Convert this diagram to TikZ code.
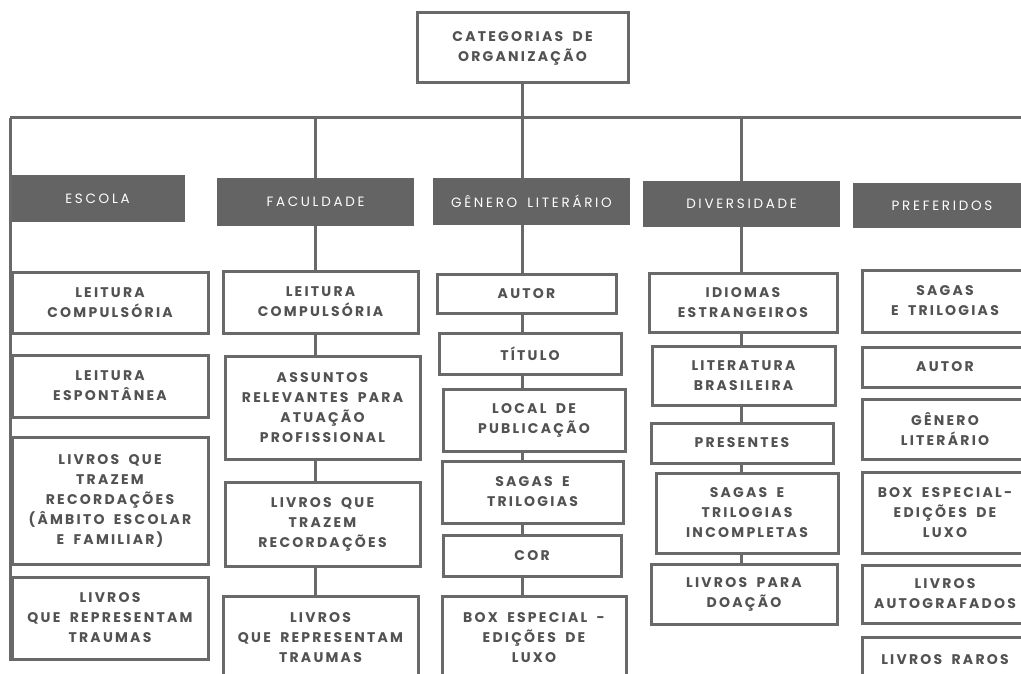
\documentclass[tikz,border=0pt]{standalone}
\usepackage{fontspec}
\usepackage{xcolor}
\usepackage{tikz}
\newfontfamily\boxfont[LetterSpace=16,WordSpace=1.8]{Poppins}
\newfontfamily\hdrfont[LetterSpace=20,WordSpace=1.6]{Poppins}
\definecolor{linegray}{RGB}{105,105,105}
\definecolor{hdrgray}{RGB}{100,100,100}
\definecolor{txtgray}{RGB}{82,82,82}

\begin{document}
\begin{tikzpicture}[x=1pt,y=-1pt,thick]
  \tikzstyle{item}=[draw=linegray,line width=3pt,fill=white,text=txtgray,align=center,inner sep=0pt,font=\boxfont\bfseries\fontsize{14}{20}\selectfont]
  \tikzstyle{hdr}=[fill=hdrgray,text=white,align=center,inner sep=0pt,font=\hdrfont\fontsize{13.5}{15}\selectfont]
  \tikzstyle{conn}=[draw=linegray,line width=3pt]
  \useasboundingbox (0,0) rectangle (1021,674);
  \clip (0,0) rectangle (1021,674);

  % root
  \node[item,minimum width=211,minimum height=70] (root) at (522.5,48) {CATEGORIAS DE\\ORGANIZAÇÃO};
  \coordinate (barL) at (10,118);
  \coordinate (barR) at (1030,118);

  % headers
  \node[hdr,minimum width=175,minimum height=47] (esc) at (97.5,198.5) {ESCOLA};
  \node[hdr,minimum width=197,minimum height=48] (fac) at (315.5,202) {FACULDADE};
  \node[hdr,minimum width=197,minimum height=47] (gen) at (531.5,201.5) {GÊNERO LITERÁRIO};
  \node[hdr,minimum width=197,minimum height=46] (div) at (741.5,204) {DIVERSIDADE};
  \node[hdr,minimum width=178,minimum height=45] (pre) at (942,205.5) {PREFERIDOS};

  % escola
  \node[item,minimum width=196,minimum height=61] (e1) at (110,302.5) {LEITURA\\COMPULSÓRIA};
  \node[item,minimum width=196,minimum height=62] (e2) at (110,386) {LEITURA\\ESPONTÂNEA};
  \node[item,minimum width=196,minimum height=127] (e3) at (110,500.5) {LIVROS QUE\\TRAZEM\\RECORDAÇÕES\\(ÂMBITO ESCOLAR\\E FAMILIAR)};
  \node[item,minimum width=196,minimum height=82] (e4) at (110,618) {LIVROS\\QUE REPRESENTAM\\TRAUMAS};

  % faculdade
  \node[item,minimum width=195,minimum height=62] (f1) at (320.5,302) {LEITURA\\COMPULSÓRIA};
  \node[item,minimum width=195,minimum height=103] (f2) at (322.5,407.5) {ASSUNTOS\\RELEVANTES PARA\\ATUAÇÃO\\PROFISSIONAL};
  \node[item,minimum width=195,minimum height=84] (f3) at (322.5,524) {LIVROS QUE\\TRAZEM\\RECORDAÇÕES};
  \node[item,minimum width=195,minimum height=84] (f4) at (320.5,638) {LIVROS\\QUE REPRESENTAM\\TRAUMAS};

  % genero literario
  \node[item,minimum width=179,minimum height=39] (g1) at (526.5,293.5) {AUTOR};
  \node[item,minimum width=182,minimum height=41] (g2) at (530,353.5) {TÍTULO};
  \node[item,minimum width=182,minimum height=62] (g3) at (534,420) {LOCAL DE\\PUBLICAÇÃO};
  \node[item,minimum width=181,minimum height=62] (g4) at (532.5,492) {SAGAS E\\TRILOGIAS};
  \node[item,minimum width=178,minimum height=41] (g5) at (532,555.5) {COR};
  \node[item,minimum width=184,minimum height=84] (g6) at (534,638) {BOX ESPECIAL -\\EDIÇÕES DE\\LUXO};

  % diversidade
  \node[item,minimum width=188,minimum height=59] (d1) at (743,302.5) {IDIOMAS\\ESTRANGEIROS};
  \node[item,minimum width=183,minimum height=59] (d2) at (743.5,375.5) {LITERATURA\\BRASILEIRA};
  \node[item,minimum width=182,minimum height=40] (d3) at (742,443) {PRESENTES};
  \node[item,minimum width=182,minimum height=80] (d4) at (747,513) {SAGAS E\\TRILOGIAS\\INCOMPLETAS};
  \node[item,minimum width=186,minimum height=60] (d5) at (744,594) {LIVROS PARA\\DOAÇÃO};

  % preferidos
  \node[item,minimum width=166,minimum height=62] (p1) at (945,301) {SAGAS\\E TRILOGIAS};
  \node[item,minimum width=166,minimum height=40] (p2) at (945,367) {AUTOR};
  \node[item,minimum width=166,minimum height=60] (p3) at (945,429) {GÊNERO\\LITERÁRIO};
  \node[item,minimum width=166,minimum height=81] (p4) at (945,512.5) {BOX ESPECIAL-\\EDIÇÕES DE\\LUXO};
  \node[item,minimum width=166,minimum height=58] (p5) at (945,594) {LIVROS\\AUTOGRAFADOS};
  \node[item,minimum width=166,minimum height=46] (p6) at (945,660) {LIVROS RAROS};

  % tree lines
  \draw[conn] (root.south) -- (root.south |- barL);
  \draw[conn] (barL) -- (barR);
  \draw[conn] (barL) -- (barL |- e4.south);
  \draw[conn] (fac.north |- barL) -- (fac.north);
  \draw[conn] (root.south |- barL) -- (root.south |- gen.north);
  \draw[conn] (div.north |- barL) -- (div.north);

  \foreach \a/\b in {fac/f1,f1/f2,f2/f3,f3/f4}
    \draw[conn] (\a.south -| fac.south) -- (\b.north -| fac.south);
  \foreach \a/\b in {gen/g1,g1/g2,g2/g3,g3/g4,g4/g5,g5/g6}
    \draw[conn] (\a.south -| root.south) -- (\b.north -| root.south);
  \foreach \a/\b in {div/d1,d1/d2,d2/d3,d3/d4,d4/d5}
    \draw[conn] (\a.south -| div.south) -- (\b.north -| div.south);
\end{tikzpicture}
\end{document}
